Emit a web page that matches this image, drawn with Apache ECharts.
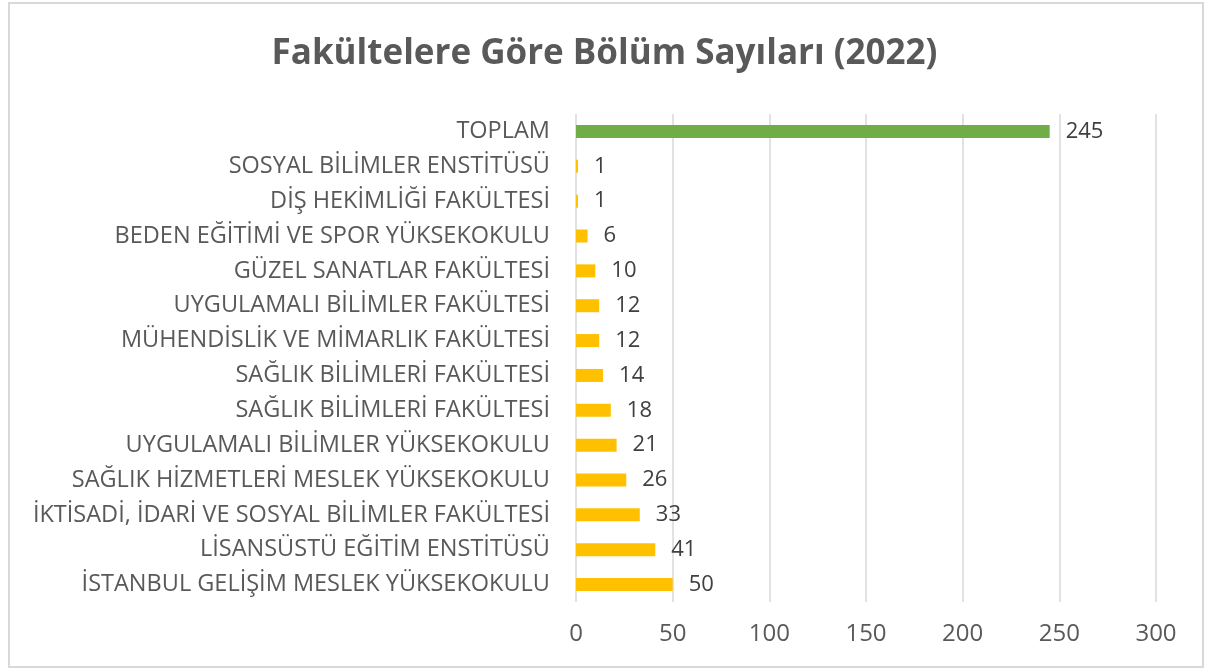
<!DOCTYPE html>
<html>
    <head>
        <meta charset="UTF-8" />
        <title>Fakültelere Göre Bölüm Sayıları (2022)</title>
        <script src="https://cdn.jsdelivr.net/npm/echarts@6.0.0/dist/echarts.min.js"></script>
        <style>
            html,
            body {
                margin: 0;
                padding: 0;
                background: #fff;
            }
            #chart {
                width: 1209px;
                height: 670px;
            }
        </style>
    </head>
    <body>
        <div id="chart"></div>
        <script>
            // bottom to top, like the category axis
            const faculties = [
                "İSTANBUL GELİŞİM MESLEK YÜKSEKOKULU",
                "LİSANSÜSTÜ EĞİTİM ENSTİTÜSÜ",
                "İKTİSADİ, İDARİ VE SOSYAL BİLİMLER FAKÜLTESİ",
                "SAĞLIK HİZMETLERİ MESLEK YÜKSEKOKULU",
                "UYGULAMALI BİLİMLER YÜKSEKOKULU",
                "SAĞLIK BİLİMLERİ FAKÜLTESİ",
                "SAĞLIK BİLİMLERİ FAKÜLTESİ",
                "MÜHENDİSLİK VE MİMARLIK FAKÜLTESİ",
                "UYGULAMALI BİLİMLER FAKÜLTESİ",
                "GÜZEL SANATLAR FAKÜLTESİ",
                "BEDEN EĞİTİMİ VE SPOR YÜKSEKOKULU",
                "DİŞ HEKİMLİĞİ FAKÜLTESİ",
                "SOSYAL BİLİMLER ENSTİTÜSÜ",
                "TOPLAM",
            ];
            const counts = [50, 41, 33, 26, 21, 18, 14, 12, 12, 10, 6, 1, 1, 245];
            const xTicks = [0, 50, 100, 150, 200, 250, 300];

            const font = "'Open Sans', sans-serif";
            const chart = echarts.init(document.getElementById("chart"));

            chart.setOption({
                animation: false,
                backgroundColor: "#fff",
                textStyle: { fontFamily: font },
                title: {
                    text: "Fakültelere Göre Bölüm Sayıları (2022)",
                    left: "center",
                    top: 32,
                    textStyle: { fontFamily: font, fontSize: 35, fontWeight: "bold", color: "#595959" },
                },
                graphic: [
                    {
                        type: "rect",
                        shape: { x: 9, y: 3, width: 1194, height: 664 },
                        style: { fill: null, stroke: "#d9d9d9", lineWidth: 2 },
                        silent: true,
                    },
                ],
                grid: { left: 576, right: 53, top: 114, bottom: 68 },
                xAxis: {
                    type: "value",
                    min: xTicks[0],
                    max: xTicks[xTicks.length - 1],
                    interval: 50,
                    axisLine: { show: false },
                    axisTick: { show: false },
                    axisLabel: { fontSize: 24, color: "#595959", margin: 20 },
                    splitLine: { lineStyle: { color: "#d9d9d9", width: 1.5 } },
                },
                yAxis: {
                    type: "category",
                    data: faculties,
                    axisLine: { show: false },
                    axisTick: { show: false },
                    axisLabel: { fontSize: 23.5, color: "#595959", margin: 26 },
                },
                series: [
                    {
                        type: "bar",
                        barWidth: 13,
                        data: counts.map((v, i) => ({
                            value: v,
                            itemStyle: { color: i === counts.length - 1 ? "#70AD47" : "#FFC000" },
                        })),
                        label: {
                            show: true,
                            position: "right",
                            distance: 16,
                            fontSize: 22,
                            color: "#404040",
                        },
                    },
                ],
            });
        </script>
    </body>
</html>
